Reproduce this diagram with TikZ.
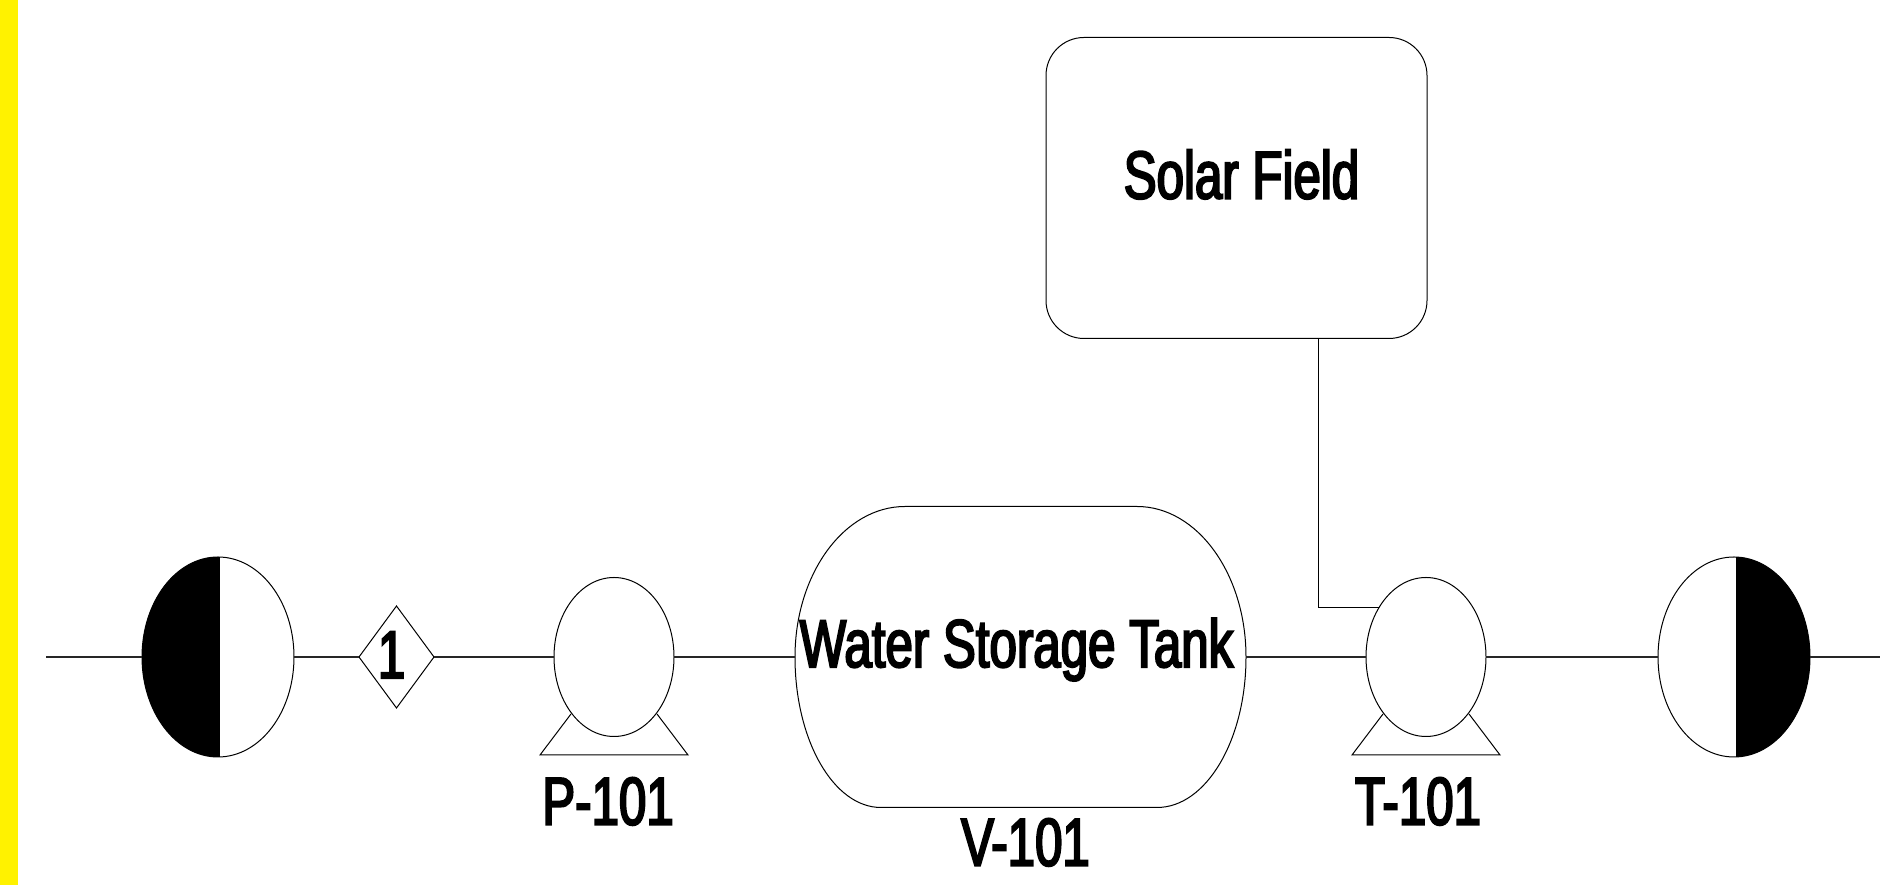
\documentclass[tikz,border=0pt]{standalone}
\usepackage{fontspec}
\setmainfont[FakeStretch=0.73,FakeBold=3]{Liberation Sans}
\usetikzlibrary{arrows.meta, positioning, shapes.geometric}

\begin{document}
\begin{tikzpicture}[
    x=1pt,
    y=1pt,
    line width=1pt,
    every node/.style={outer sep=0pt},
    pipe/.style={line width=1.3pt, black!85},
    meter/.style={
        draw,
        ellipse,
        inner sep=0pt,
        minimum width=152pt,
        minimum height=200pt
    },
    meter left/.style={
        meter,
        path picture={\fill[black] (path picture bounding box.north west) rectangle ([xshift=2pt]path picture bounding box.south);}
    },
    meter right/.style={
        meter,
        path picture={\fill[black] ([xshift=2pt]path picture bounding box.north) rectangle (path picture bounding box.south east);}
    },
    tagbox/.style={
        draw,
        diamond,
        inner sep=0pt,
        minimum width=75pt,
        minimum height=102pt
    },
    pumpbody/.style={
        draw,
        ellipse,
        inner sep=0pt,
        minimum width=120pt,
        minimum height=159pt
    },
    vessel/.style={
        inner sep=0pt,
        minimum width=451pt,
        minimum height=301pt
    },
    field/.style={
        draw,
        rounded corners=38pt,
        inner sep=0pt,
        minimum width=381pt,
        minimum height=301pt
    },
    caption/.style={
        inner sep=0pt,
        font=\fontsize{67.5}{70}\selectfont
    }
]
\useasboundingbox (0,0) rectangle (1880,885);
\fill[yellow] (0,0) rectangle (18,885);

% Process line
\coordinate (linein) at (46,228);
\node[meter left] (feed) at (218,228) {};
\node[tagbox, right=65pt of feed] (tag) {};
\node[pumpbody, right=120pt of tag] (pumpP) {};
\node[vessel, right=121pt of pumpP] (tank) {};
\node[pumpbody, right=120pt of tank] (pumpT) {};
\node[meter right, right=172pt of pumpT] (drain) {};
\coordinate (lineout) at (1880,228);
\node[field, above=168pt of tank, xshift=216pt] (solar) {};

% Vessel outline
\draw (tank.west)
    arc[start angle=180, end angle=90, x radius=110pt, y radius=150.5pt]
    -- ([xshift=-109pt]tank.north east)
    arc[start angle=90, end angle=0, x radius=109pt, y radius=150.5pt]
    arc[start angle=0, end angle=-90, x radius=89pt, y radius=150.5pt]
    -- ([xshift=86pt]tank.south west)
    arc[start angle=270, end angle=180, x radius=86pt, y radius=150.5pt];

% Pump stands
\foreach \pump in {pumpP, pumpT} {
    \draw ([shift={(-43pt,-57pt)}]\pump.center)
        -- ([shift={(-74pt,-98pt)}]\pump.center)
        -- ([shift={(74pt,-98pt)}]\pump.center)
        -- ([shift={(43pt,-57pt)}]\pump.center);
}

% Labels
\node[caption, anchor=base] (tagtext) at ([shift={(-5pt,-21pt)}]tag.center) {1};
\node[caption, below=41pt of pumpP, xshift=-6pt] (pumpPtext) {P-101};
\node[caption, below=41pt of pumpT, xshift=-8pt] (pumpTtext) {T-101};
\node[caption, below=11pt of tank, xshift=5pt] (tanktag) {V-101};
\node[caption, anchor=base] (tanktext) at ([shift={(-4pt,-10pt)}]tank.center) {Water Storage Tank};
\node[caption, anchor=base] (solartext) at ([shift={(5pt,-10.5pt)}]solar.center) {Solar Field};

% Connections
\coordinate (teein) at ([shift={(-108pt,49pt)}]pumpT.center);
\coordinate (teeout) at ([shift={(-47pt,49pt)}]pumpT.center);
\draw[pipe] (linein) -- (feed.west);
\draw[pipe] (feed.east) -- (tag.west);
\draw[pipe] (tag.east) -- (pumpP.west);
\draw[pipe] (pumpP.east) -- (tank.west);
\draw[pipe] (tank.east) -- (pumpT.west);
\draw[pipe] (pumpT.east) -- (drain.west);
\draw[pipe] (drain.east) -- (lineout);
\draw (teein |- solar.south) -- (teein) -- (teeout);
\end{tikzpicture}
\end{document}
